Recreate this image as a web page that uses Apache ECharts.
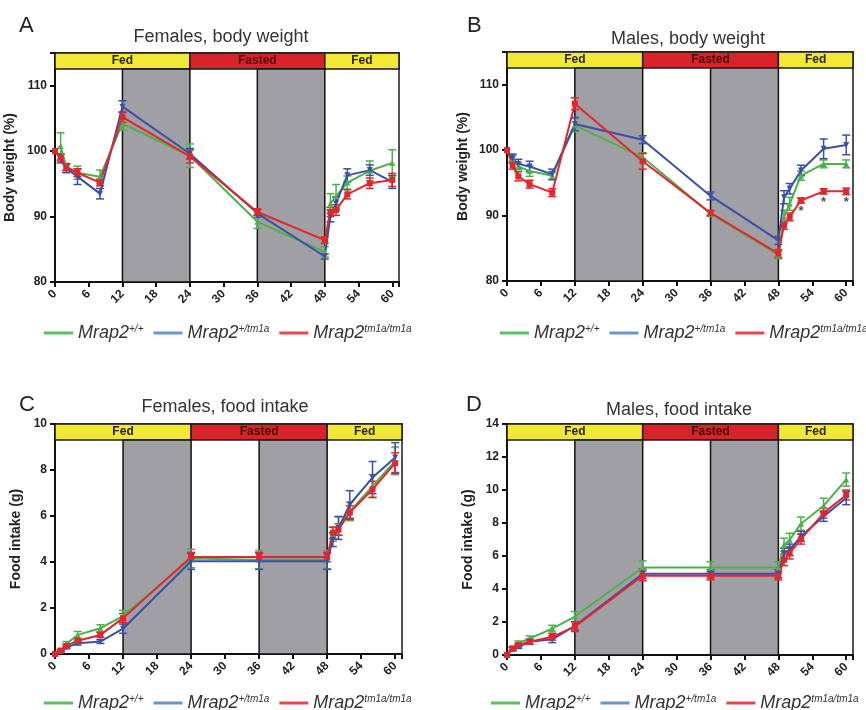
<!DOCTYPE html>
<html>
<head>
<meta charset="utf-8">
<script src="https://cdn.jsdelivr.net/npm/echarts@6/dist/echarts.min.js"></script>
<style>
  html, body { margin: 0; padding: 0; background: #fff; }
  #main { width: 866px; height: 710px; }
</style>
</head>
<body>
<div id="main"></div>
<script>
// time points (h)
const hours = [0, 1, 2, 4, 8, 12, 24, 36, 48, 49, 50, 52, 56, 60];
const groups = ['Mrap2+/+', 'Mrap2+/tm1a', 'Mrap2tm1a/tm1a'];
const sups = ['+/+', '+/tm1a', 'tm1a/tm1a'];

// A: females, body weight (%)
const fBwWT  = [100, 100.8, 97.6, 96.7, 96.1, 104.2, 99.3, 89.2, 84.6, 92.0, 93.1, 95.2, 97.0, 98.2];
const fBwHet = [100, 98.9, 97.4, 96.1, 93.5, 106.8, 99.6, 90.5, 83.9, 90.1, 92.0, 96.3, 97.1, 95.3];
const fBwKO  = [100, 99.0, 97.5, 96.7, 95.2, 105.2, 99.2, 90.7, 86.4, 90.7, 91.0, 93.4, 95.1, 95.6];
const fBwWTErr  = [0, 2.0, 0.5, 1.0, 1.0, 1.0, 1.8, 1.0, 0.8, 1.5, 1.8, 1.0, 1.5, 2.0];
const fBwHetErr = [0, 0.7, 0.7, 1.2, 0.8, 0.9, 0.8, 0.6, 0.4, 0.9, 1.0, 1.0, 0.8, 1.0];
const fBwKOErr  = [0, 0.5, 0.5, 0.6, 0.5, 0.8, 1.0, 0.5, 0.5, 0.7, 0.8, 0.7, 0.8, 1.0];

// B: males, body weight (%)
const mBwWT  = [100, 98.7, 97.5, 96.8, 96.1, 103.8, 98.9, 90.3, 84.0, 89.8, 91.8, 96.1, 97.9, 97.9];
const mBwHet = [100, 98.7, 97.9, 97.5, 96.3, 104.0, 101.6, 93.0, 86.2, 92.8, 94.1, 96.9, 100.2, 100.8];
const mBwKO  = [100, 97.7, 96.0, 94.8, 93.5, 107.1, 98.3, 90.4, 84.2, 88.5, 89.8, 92.3, 93.7, 93.7];
const mBwWTErr  = [0, 0.5, 0.5, 0.8, 0.6, 1.0, 0.7, 0.4, 0.6, 1.0, 1.0, 0.7, 0.6, 0.6];
const mBwHetErr = [0, 0.7, 0.7, 0.8, 0.8, 1.0, 0.6, 0.6, 0.6, 1.0, 0.8, 0.8, 1.5, 1.5];
const mBwKOErr  = [0, 0.6, 0.7, 0.6, 0.6, 0.9, 1.2, 0.4, 0.6, 0.6, 0.6, 0.4, 0.4, 0.5];
const mBwSig = [52, 56, 60];

// C: females, food intake (g)
const fFiWT  = [0, 0.15, 0.44, 0.83, 1.12, 1.65, 4.15, 4.1, 4.1, 5.2, 5.56, 6.2, 7.3, 8.4];
const fFiHet = [0, 0.1, 0.28, 0.47, 0.54, 1.1, 4.03, 4.03, 4.03, 4.97, 5.48, 6.5, 7.67, 8.54];
const fFiKO  = [0, 0.15, 0.35, 0.58, 0.83, 1.56, 4.22, 4.22, 4.22, 5.27, 5.41, 6.15, 7.16, 8.3];
const fFiWTErr  = [0, 0.05, 0.1, 0.15, 0.15, 0.25, 0.4, 0.4, 0.4, 0.3, 0.4, 0.4, 0.5, 0.6];
const fFiHetErr = [0, 0.05, 0.05, 0.08, 0.08, 0.2, 0.35, 0.35, 0.35, 0.3, 0.5, 0.6, 0.7, 0.65];
const fFiKOErr  = [0, 0.05, 0.08, 0.08, 0.1, 0.2, 0.2, 0.2, 0.2, 0.25, 0.25, 0.3, 0.35, 0.45];

// D: males, food intake (g)
const mFiWT  = [0, 0.4, 0.7, 1.0, 1.6, 2.33, 5.3, 5.3, 5.3, 6.68, 6.98, 7.96, 9.05, 10.63];
const mFiHet = [0, 0.35, 0.5, 0.8, 0.95, 1.76, 4.92, 4.92, 4.92, 6.17, 6.37, 7.19, 8.4, 9.51];
const mFiKO  = [0, 0.4, 0.6, 0.8, 1.1, 1.72, 4.8, 4.8, 4.8, 5.77, 6.17, 7.02, 8.6, 9.7];
const mFiWTErr  = [0, 0.1, 0.15, 0.15, 0.2, 0.3, 0.4, 0.35, 0.35, 0.4, 0.4, 0.4, 0.45, 0.4];
const mFiHetErr = [0, 0.1, 0.1, 0.15, 0.2, 0.25, 0.3, 0.25, 0.25, 0.3, 0.35, 0.3, 0.3, 0.4];
const mFiKOErr  = [0, 0.1, 0.1, 0.15, 0.2, 0.3, 0.3, 0.25, 0.25, 0.35, 0.35, 0.3, 0.3, 0.3];

// feeding phases and dark periods (h)
const phases = [['Fed', 0, 24], ['Fasted', 24, 48], ['Fed', 48, 61.2]];
const darkPeriods = [[12, 24], [36, 48]];

const colors = ['#4db14b', '#3b4fa6', '#e3262d'];
const legendColors = ['#5cbf61', '#6a93d4', '#e9474d'];
const symbols = ['triangle', 'path://M0,0 L10,0 L5,9 Z', 'rect'];
const font = 'Liberation Sans, Arial, sans-serif';

const panels = [
  { label: 'A', title: 'Females, body weight', yName: 'Body weight (%)', min: 80, max: 115, interval: 10,
    data: [fBwWT, fBwHet, fBwKO], err: [fBwWTErr, fBwHetErr, fBwKOErr],
    grid: { left: 55, top: 53, width: 344, height: 229 }, nameGap: 38, titleX: 216, titleY: 23, legendX: 39, legendY: 319 },
  { label: 'B', title: 'Males, body weight', yName: 'Body weight (%)', min: 80, max: 115, interval: 10,
    data: [mBwWT, mBwHet, mBwKO], err: [mBwWTErr, mBwHetErr, mBwKOErr], sig: mBwSig,
    grid: { left: 507, top: 52, width: 346, height: 229 }, nameGap: 37, titleX: 683, titleY: 25, legendX: 495, legendY: 319 },
  { label: 'C', title: 'Females, food intake', yName: 'Food intake (g)', min: 0, max: 10, interval: 2,
    data: [fFiWT, fFiHet, fFiKO], err: [fFiWTErr, fFiHetErr, fFiKOErr],
    grid: { left: 55, top: 424, width: 347, height: 230 }, nameGap: 32, titleX: 220, titleY: 393, legendX: 39, legendY: 689 },
  { label: 'D', title: 'Males, food intake', yName: 'Food intake (g)', min: 0, max: 14, interval: 2,
    data: [mFiWT, mFiHet, mFiKO], err: [mFiWTErr, mFiHetErr, mFiKOErr],
    grid: { left: 507, top: 424, width: 346, height: 231 }, nameGap: 32, titleX: 674, titleY: 396, legendX: 486, legendY: 689 }
];
const letterPos = [[14, 10], [462, 10], [14, 389], [461, 389]];

function renderErr(params, api) {
  const x = api.value(0), y = api.value(1), e = api.value(2);
  if (!e) return;
  const top = api.coord([x, y + e]);
  const bot = api.coord([x, y - e]);
  const w = 4;
  const style = { stroke: api.visual('color'), lineWidth: 1.5 };
  return {
    type: 'group',
    children: [
      { type: 'line', shape: { x1: top[0], y1: top[1], x2: bot[0], y2: bot[1] }, style: style },
      { type: 'line', shape: { x1: top[0] - w, y1: top[1], x2: top[0] + w, y2: top[1] }, style: style },
      { type: 'line', shape: { x1: bot[0] - w, y1: bot[1], x2: bot[0] + w, y2: bot[1] }, style: style }
    ]
  };
}

const grids = [], xAxes = [], yAxes = [], series = [], titles = [], legends = [];

panels.forEach((p, i) => {
  grids.push(Object.assign({ show: true, borderColor: '#1a1a1a', borderWidth: 1.5, backgroundColor: '#fff' }, p.grid));
  xAxes.push({
    type: 'value', gridIndex: i, min: 0, max: 61.2, interval: 6,
    axisLine: { lineStyle: { color: '#111', width: 2 } },
    axisTick: { length: 5, lineStyle: { color: '#111', width: 2 } },
    splitLine: { show: false },
    axisLabel: { rotate: 45, margin: 10, color: '#222', fontWeight: 'bold', fontSize: 12, fontFamily: font,
      formatter: v => (v % 6 === 0 ? String(v) : '') }
  });
  yAxes.push({
    type: 'value', gridIndex: i, min: p.min, max: p.max, interval: p.interval,
    name: p.yName, nameLocation: 'middle', nameGap: p.nameGap,
    nameTextStyle: { color: '#222', fontWeight: 'bold', fontSize: 14, fontFamily: font },
    axisLine: { lineStyle: { color: '#111', width: 2 } },
    axisTick: { length: 5, lineStyle: { color: '#111', width: 2 } },
    splitLine: { show: false },
    axisLabel: { margin: 8, color: '#222', fontWeight: 'bold', fontSize: 12, fontFamily: font,
      formatter: v => (v % p.interval === 0 ? String(v) : '') }
  });

  // header band and dark periods
  const hdr = p.max - 16 * (p.max - p.min) / p.grid.height;
  const areas = phases.map(ph => [
    { xAxis: ph[1], yAxis: hdr, name: ph[0],
      itemStyle: { color: ph[0] === 'Fed' ? '#f2e836' : '#d8232a', borderColor: '#1a1a1a', borderWidth: 1.5 },
      label: { color: ph[0] === 'Fed' ? '#2a2400' : '#4a0a0a' } },
    { xAxis: ph[2], yAxis: p.max }
  ]).concat(darkPeriods.map(d => [
    { xAxis: d[0], yAxis: p.min, itemStyle: { color: '#a09fa4', borderColor: '#111', borderWidth: 1.5 }, label: { show: false } },
    { xAxis: d[1], yAxis: hdr }
  ]));
  series.push({
    type: 'line', xAxisIndex: i, yAxisIndex: i, data: [], z: 1, silent: true,
    markArea: {
      silent: true,
      label: { show: true, position: 'inside', fontSize: 12, fontWeight: 'bold', fontFamily: font },
      data: areas
    }
  });

  p.data.forEach((vals, g) => {
    series.push({
      type: 'custom', xAxisIndex: i, yAxisIndex: i, z: 3, silent: true,
      itemStyle: { color: colors[g] },
      renderItem: renderErr,
      encode: { x: 0, y: 1 },
      data: hours.map((h, k) => [h, vals[k], p.err[g][k]])
    });
    series.push({
      type: 'line', name: groups[g], xAxisIndex: i, yAxisIndex: i, z: 4,
      symbol: symbols[g], symbolSize: 6,
      lineStyle: { color: colors[g], width: 2 },
      itemStyle: { color: colors[g] },
      data: hours.map((h, k) => [h, vals[k]])
    });
  });

  if (p.sig) {
    const ko = p.data[2];
    series.push({
      type: 'scatter', xAxisIndex: i, yAxisIndex: i, z: 5, symbolSize: 1, silent: true,
      itemStyle: { color: 'rgba(0,0,0,0)' },
      label: { show: true, position: 'bottom', distance: 4, formatter: '*', color: '#222', fontSize: 13, fontWeight: 'bold' },
      data: p.sig.map(h => [h, ko[hours.indexOf(h)]])
    });
  }

  titles.push({ text: p.label, left: letterPos[i][0], top: letterPos[i][1],
    textStyle: { fontSize: 22, fontWeight: 'normal', color: '#222', fontFamily: font } });
  titles.push({ text: p.title, left: p.titleX, top: p.titleY, textAlign: 'center',
    textStyle: { fontSize: 18, fontWeight: 'normal', color: '#333', fontFamily: font } });

  legends.push({
    left: p.legendX, top: p.legendY, width: 420, itemWidth: 29, itemHeight: 3, itemGap: 10, icon: 'rect',
    selectedMode: false,
    data: groups.map((g, k) => ({ name: g, itemStyle: { color: legendColors[k] } })),
    formatter: name => '{i|Mrap2}{s|' + sups[groups.indexOf(name)] + '}',
    textStyle: {
      rich: {
        i: { fontSize: 18, fontStyle: 'italic', color: '#333', fontFamily: font },
        s: { fontSize: 10, fontStyle: 'italic', color: '#333', fontFamily: font, verticalAlign: 'top' }
      }
    }
  });
});

const chart = echarts.init(document.getElementById('main'));
chart.setOption({
  animation: false,
  backgroundColor: '#fff',
  title: titles,
  legend: legends,
  grid: grids,
  xAxis: xAxes,
  yAxis: yAxes,
  series: series
});
</script>
</body>
</html>
